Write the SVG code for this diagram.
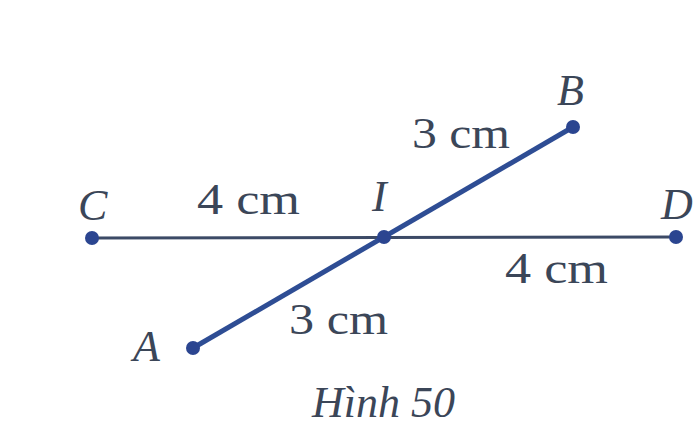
<svg xmlns="http://www.w3.org/2000/svg" width="695" height="439" viewBox="0 0 695 439">
<style>
.lbl{font-family:"Liberation Serif",serif;font-style:italic;font-size:44px;fill:#3b4658}
.len{font-family:"Liberation Serif",serif;font-size:44px;fill:#3b4658}
.pt{fill:#2b4590}
</style>
<rect width="695" height="439" fill="#ffffff"/>
<g id="connectors">
<line x1="92" y1="238" x2="676" y2="237" stroke="#3c4a66" stroke-width="3"/>
<line x1="193" y1="348" x2="573" y2="127" stroke="#2e4d94" stroke-width="5"/>
</g>
<g id="C"><circle class="pt" cx="92" cy="238" r="7"/><text class="lbl" x="78" y="220">C</text></g>
<g id="D"><circle class="pt" cx="676" cy="237" r="7"/><text class="lbl" x="661" y="219">D</text></g>
<g id="I"><circle class="pt" cx="384" cy="237" r="7"/><text class="lbl" x="372" y="211">I</text></g>
<g id="B"><circle class="pt" cx="573" cy="127" r="7"/><text class="lbl" x="557" y="105">B</text></g>
<g id="A"><circle class="pt" cx="193" cy="348" r="7"/><text class="lbl" x="133" y="361">A</text></g>
<g id="labels">
<text class="len" x="197" y="214" textLength="103" lengthAdjust="spacingAndGlyphs">4 cm</text>
<text class="len" x="412" y="148" textLength="98" lengthAdjust="spacingAndGlyphs">3 cm</text>
<text class="len" x="505" y="283" textLength="103" lengthAdjust="spacingAndGlyphs">4 cm</text>
<text class="len" x="289" y="334" textLength="99" lengthAdjust="spacingAndGlyphs">3 cm</text>
<text class="lbl" x="312" y="417" textLength="143" lengthAdjust="spacingAndGlyphs">Hình 50</text>
</g>
</svg>
